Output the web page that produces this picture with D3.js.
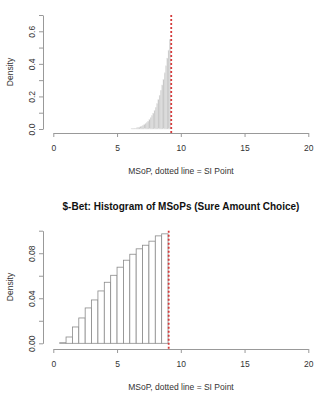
<!DOCTYPE html>
<html>
<head>
<meta charset="utf-8">
<script src="https://cdn.jsdelivr.net/npm/d3@7"></script>
<style>
  body { margin: 0; background: #fff; }
  svg text { font-family: "Liberation Sans", Arial, sans-serif; fill: #333; }
  .axis path, .axis line { stroke: #999; }
</style>
</head>
<body>
<div id="chart"></div>
<script>
// bovenste histogram: begin van elke bin (breedte 0.1) en de dichtheid
const topBinStart = [6.1, 6.2, 6.3, 6.4, 6.5, 6.6, 6.7, 6.8, 6.9, 7.0,
  7.1, 7.2, 7.3, 7.4, 7.5, 7.6, 7.7, 7.8, 7.9, 8.0,
  8.1, 8.2, 8.3, 8.4, 8.5, 8.6, 8.7, 8.8, 8.9, 9.0, 9.1]
const topDensity = [0.002, 0.003, 0.004, 0.005, 0.007, 0.009, 0.011, 0.014, 0.018, 0.022,
  0.027, 0.033, 0.040, 0.048, 0.058, 0.069, 0.082, 0.097, 0.114, 0.133,
  0.155, 0.180, 0.207, 0.237, 0.270, 0.306, 0.345, 0.388, 0.435, 0.485, 0.550]
const topBinWidth = 0.1
const topSIPoint = 9.25

// onderste histogram: bins van 0.5 breed
const botBinStart = [0.5, 1.0, 1.5, 2.0, 2.5, 3.0, 3.5, 4.0, 4.5, 5.0, 5.5, 6.0, 6.5, 7.0, 7.5, 8.0, 8.5]
const botDensity = [0.0005, 0.0056, 0.0145, 0.0225, 0.0314, 0.0385, 0.0465, 0.0542, 0.0604,
  0.0676, 0.0738, 0.0791, 0.0839, 0.0871, 0.0907, 0.0954, 0.0972]
const botBinWidth = 0.5
const botSIPoint = 9.05

const xTicks = [0, 5, 10, 15, 20]
const topYTicks = [0, 0.1, 0.2, 0.3, 0.4, 0.5, 0.6, 0.7]
const botYTicks = [0, 0.02, 0.04, 0.06, 0.08, 0.10]

const width = 314
const height = 403

var svg = d3.select("#chart").append("svg")
    .attr("width", width)
    .attr("height", height)

var xScale = d3.scaleLinear().domain([0, 20]).range([53.3, 308.3])

/**
 * teken één histogram paneel
 */
function drawPanel(p) {
  var yScale = d3.scaleLinear().domain(p.yDomain).range([p.yBottom, p.yTop])
  var g = svg.append("g")

  // x-as
  g.append("g")
      .attr("class", "axis")
      .attr("transform", "translate(0," + p.xAxisY + ")")
      .call(d3.axisBottom(xScale).tickValues(xTicks).tickSize(4).tickSizeOuter(0).tickPadding(8))
      .call(a => a.selectAll("text").attr("font-size", 8.5).attr("fill", "#333").attr("font-family", "Liberation Sans, Arial, sans-serif"))

  // y-as, labels gedraaid zoals in R
  g.append("g")
      .attr("class", "axis")
      .attr("transform", "translate(43,0)")
      .call(d3.axisLeft(yScale).tickValues(p.yTicks).tickSize(4).tickSizeOuter(0)
        .tickFormat((d, i) => i % 2 === 0 ? p.fmt(d) : ""))
      .call(a => a.selectAll("text")
        .attr("font-size", 8.5).attr("fill", "#333")
        .attr("font-family", "Liberation Sans, Arial, sans-serif")
        .attr("text-anchor", "middle")
        .attr("x", 0).attr("dy", 0)
        .attr("transform", "translate(-11,0) rotate(-90)")
        .attr("y", 3))

  // bars
  g.append("g").selectAll("rect")
      .data(p.starts)
      .enter()
      .append("rect")
      .attr("x", (d) => xScale(d))
      .attr("width", (d) => xScale(d + p.binWidth) - xScale(d))
      .attr("y", (d, i) => yScale(p.dens[i]))
      .attr("height", (d, i) => yScale(0) - yScale(p.dens[i]))
      .attr("fill", p.fill)
      .attr("stroke", p.stroke)
      .attr("stroke-width", p.strokeWidth)

  // stippellijn SI punt
  g.append("line")
      .attr("x1", xScale(p.si)).attr("x2", xScale(p.si))
      .attr("y1", p.yTop).attr("y2", p.xAxisY)
      .attr("stroke", "#d43a3a")
      .attr("stroke-width", 1.8)
      .attr("stroke-dasharray", "2,2")

  // as titels
  g.append("text")
      .attr("x", 181).attr("y", p.xAxisY + 41)
      .attr("text-anchor", "middle")
      .attr("font-size", 8.5)
      .text("MSoP, dotted line = SI Point")

  g.append("text")
      .attr("transform", "translate(13," + ((p.yTop + p.yBottom) / 2) + ") rotate(-90)")
      .attr("text-anchor", "middle")
      .attr("font-size", 8.5)
      .text("Density")
}

drawPanel({
  yDomain: [0, 0.7], yBottom: 129, yTop: 15, xAxisY: 133,
  yTicks: topYTicks, fmt: d3.format(".1f"),
  starts: topBinStart, dens: topDensity, binWidth: topBinWidth,
  fill: "#c4c4c4", stroke: "#e6e6e6", strokeWidth: 0.4,
  si: topSIPoint
})

drawPanel({
  yDomain: [0, 0.1], yBottom: 343.3, yTop: 230.7, xAxisY: 349,
  yTicks: botYTicks, fmt: d3.format(".2f"),
  starts: botBinStart, dens: botDensity, binWidth: botBinWidth,
  fill: "#fff", stroke: "#8a8a8a", strokeWidth: 0.8,
  si: botSIPoint
})

// titel onderste paneel
svg.append("text")
    .attr("x", 181).attr("y", 210)
    .attr("text-anchor", "middle")
    .attr("font-size", 10)
    .attr("font-weight", "bold")
    .style("fill", "#111")
    .text("$-Bet: Histogram of MSoPs (Sure Amount Choice)")
</script>
</body>
</html>
